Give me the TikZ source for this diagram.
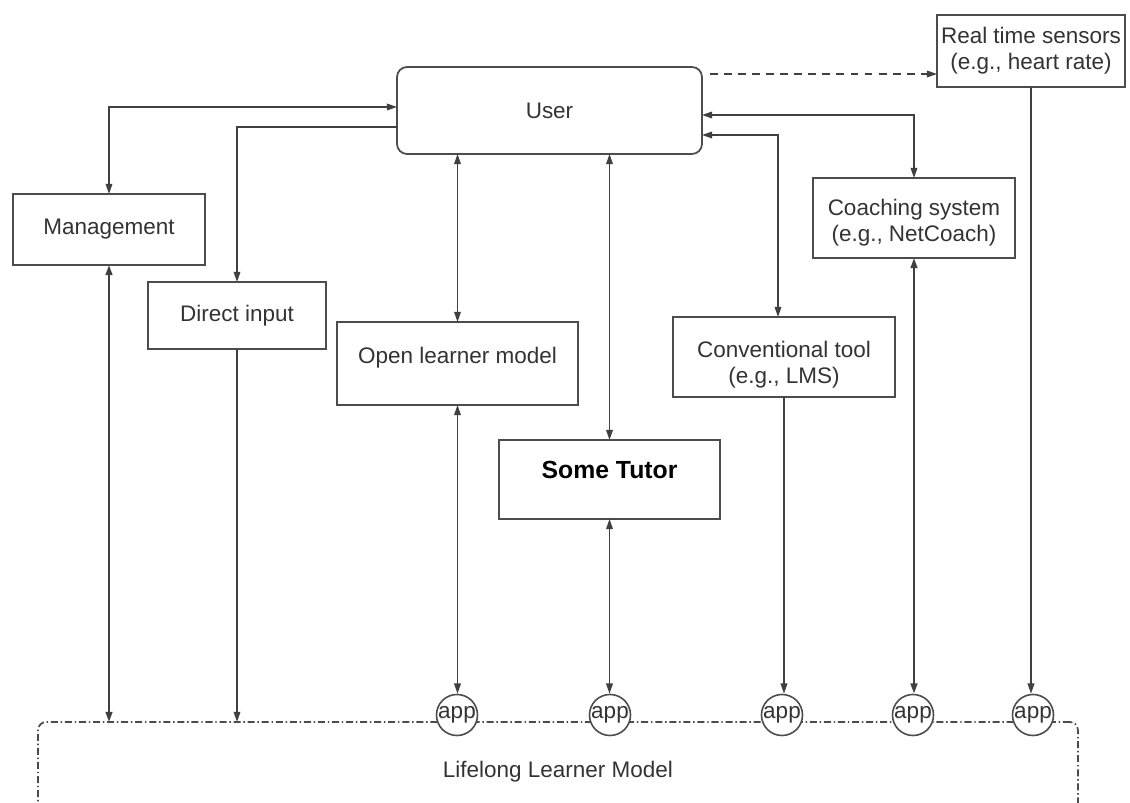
\documentclass[tikz,border=0pt]{standalone}
\usepackage{fontspec}
\setmainfont{Liberation Sans}
\usepackage{tikz}
\usetikzlibrary{positioning,
				arrows.meta,
				calc}

\begin{document}
\begin{tikzpicture}[x=0.02cm, y=-0.02cm,
		every node/.style={font=\fontsize{12.8}{14.8}\selectfont, text=black!80},
		box/.style={draw=black!70, line width=1pt, inner sep=0pt, outer sep=0pt, align=center},
		app/.style={draw=black!70, line width=0.9pt, circle, fill=white, minimum size=0.8cm, inner sep=0pt},
		link/.style={draw=black!75, line width=0.8pt},
		heavy/.style={draw=black!75, line width=1.3pt},
		>={Triangle[length=5.8pt,width=3.8pt]}]
	\path[use as bounding box] (0,0) rectangle (1130,803);
	\clip (0,0) rectangle (1130,803);
	% the boxes
	\node[box, rounded corners=0.2cm, minimum width=6.1cm, minimum height=1.74cm] (user) at (549.5,110.5) {User};
	\node[box, minimum width=3.76cm, minimum height=1.44cm] (sensors) at (1031,51) {Real time sensors\\(e.g., heart rate)};
	\node[box, minimum width=4.04cm, minimum height=1.6cm] (coach) at (914,218) {\rule{0pt}{15pt}Coaching system\\(e.g., NetCoach)};
	\node[box, minimum width=3.84cm, minimum height=1.42cm] (mgmt) at (109,229.5) {Management};
	\node[box, minimum width=3.56cm, minimum height=1.34cm] (direct) at (237,315.5) {Direct input};
	\node[box, minimum width=4.82cm, minimum height=1.66cm, text height=9.3pt, text depth=8.9pt] (olm) at (457.5,363.5) {Open learner model};
	\node[box, minimum width=4.44cm, minimum height=1.6cm] (conv) at (784,357) {\rule{0pt}{18.3pt}Conventional tool\\(e.g., LMS)};
	\node[box, minimum width=4.42cm, minimum height=1.58cm, text height=10.2pt, text depth=10.8pt,
		font=\fontsize{14.1}{16}\selectfont\bfseries, text=black] (tutor) at (609.5,479.5) {Some Tutor};
	\node[box, dash pattern=on 4pt off 1.6pt on 0.8pt off 1.6pt, rounded corners=0.16cm,
		minimum width=20.8cm, minimum height=2cm] (llm) at (558,772) {Lifelong Learner Model};
	% apps on the model
	\foreach \i/\x in {1/457,2/610,3/782,4/913,5/1033}
		\node[app] (app\i) at (\x,715) {app};
	% connectors
	\draw[link, dash pattern=on 4.5pt off 3.5pt, ->] ($(user.north east)+(8,7)$) -- ($(sensors.west |- user.north)+(0,7)$);
	\draw[link, <->] ($(user.west)+(0,-3.5)$) -| (mgmt.north);
	\draw[link, ->] ($(user.west)+(0,16.5)$) -| (direct.north);
	\draw[link, <->] ($(user.east)+(0,4.5)$) -| (coach.north);
	\draw[link, <->] ($(user.east)+(0,24.5)$) -| ($(conv.north)+(-6,0)$);
	\draw[link, <->] (olm.north) -- (olm.north |- user.south);
	\draw[link, <->] (tutor.north) -- (tutor.north |- user.south);
	\draw[link, <->] (olm.south) -- (olm.south |- app1.north);
	\draw[link, <->] (tutor.south) -- (tutor.south |- app2.north);
	\draw[link, ->] (conv.south) -- (conv.south |- app3.north);
	\draw[heavy, <->] (coach.south) -- (coach.south |- app4.north);
	\draw[link, ->] (sensors.south) -- (sensors.south |- app5.north);
	\draw[link, ->] (direct.south) -- (direct.south |- llm.north);
	\draw[heavy, <->] (mgmt.south) -- (mgmt.south |- llm.north);
\end{tikzpicture}
\end{document}
